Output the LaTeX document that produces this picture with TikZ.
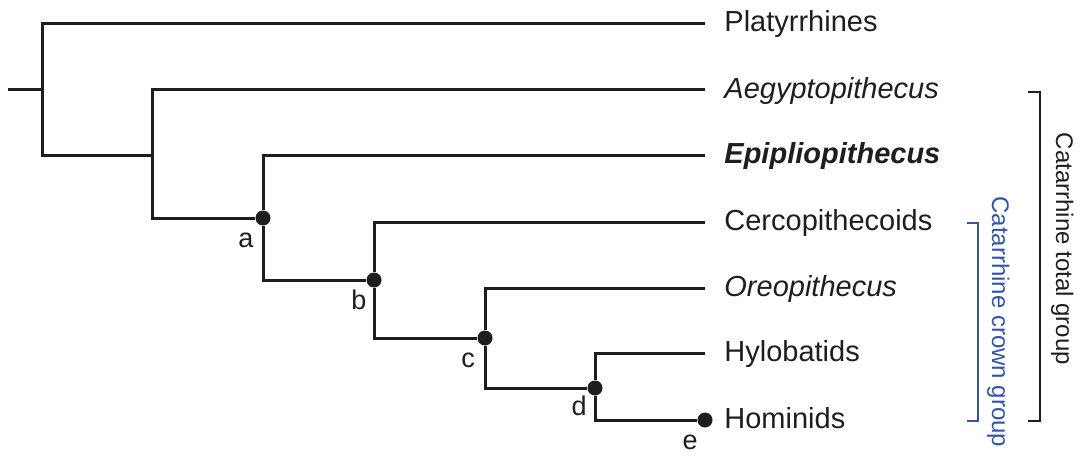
\documentclass[tikz,border=0pt]{standalone}
\usepackage{fontspec}
\setmainfont{Liberation Sans}
\usetikzlibrary{calc}
\definecolor{crownblue}{RGB}{52,84,168}
\definecolor{treeblack}{RGB}{30,30,30}
\begin{document}
\begin{tikzpicture}[x=0.5pt,y=-0.5pt,
  branch/.style={line width=1.5pt, draw=treeblack},
  dot/.style={circle, fill=treeblack, inner sep=0pt, minimum size=7.5pt},
  tip/.style={anchor=base west, inner sep=0pt, font=\fontsize{14.5}{17}\selectfont, text=treeblack},
  nlab/.style={anchor=base, inner sep=0pt, font=\fontsize{13.5}{16}\selectfont, text=treeblack},
  grouplab/.style={anchor=base, inner sep=0pt, rotate=-90, font=\fontsize{12}{14}\selectfont}]
\useasboundingbox (0,0) rectangle (1085,460);

% internal points and tips
\coordinate (r0) at (8,90);
\coordinate (R) at (42,90);
\coordinate (n1) at (152,155);
\coordinate (tP) at (705,24);
\coordinate (tA) at (705,90);
\coordinate (tE) at (705,155);
\coordinate (tC) at (705,222);
\coordinate (tO) at (705,288);
\coordinate (tH) at (705,353);
\node[dot] (a) at (263,218) {};
\node[dot] (b) at (374,280) {};
\node[dot] (c) at (485,338) {};
\node[dot] (d) at (595,388) {};
\node[dot] (e) at (705,420) {};

% branches
\draw[branch] (r0) -- (R);
\draw[branch] (R) |- (tP);
\draw[branch] (R) |- (n1);
\draw[branch] (n1) |- (tA);
\draw[branch] (n1) |- (a);
\draw[branch] (a) |- (tE);
\draw[branch] (a) |- (b);
\draw[branch] (b) |- (tC);
\draw[branch] (b) |- (c);
\draw[branch] (c) |- (tO);
\draw[branch] (c) |- (d);
\draw[branch] (d) |- (tH);
\draw[branch] (d) |- (e);

% node letters
\node[nlab] (la) at ($(a)+(-17,29)$) {a};
\node[nlab] (lb) at ($(b)+(-15,29)$) {b};
\node[nlab] (lc) at ($(c)+(-17,29)$) {c};
\node[nlab] (ld) at ($(d)+(-16,27)$) {d};
\node[nlab] (le) at ($(e)+(-15,29)$) {e};

% tip labels
\node[tip] (lP) at (724,32) {Platyrrhines};
\node[tip] (lA) at (724,98) {\textit{Aegyptopithecus}};
\node[tip] (lE) at (724,163) {\textbf{\textit{Epipliopithecus}}};
\node[tip] (lC) at (724,230) {Cercopithecoids};
\node[tip] (lO) at (724,296) {\textit{Oreopithecus}};
\node[tip] (lH) at (724,361) {Hylobatids};
\node[tip] (lM) at (724,428) {Hominids};

% total group bracket
\coordinate (g1) at (1028,92);
\coordinate (g2) at (1040,92);
\coordinate (g3) at (1040,421);
\coordinate (g4) at (1028,421);
\draw[line width=1pt, treeblack] (g1) -- (g2) -- (g3) -- (g4);
\node[grouplab, text=treeblack] (tot) at (1056,249) {Catarrhine total group};

% crown group bracket
\coordinate (k1) at (967,223);
\coordinate (k2) at (978,223);
\coordinate (k3) at (978,421);
\coordinate (k4) at (967,421);
\draw[line width=0.9pt, crownblue] (k1) -- (k2) -- (k3) -- (k4);
\node[grouplab, text=crownblue] (crown) at (992,322) {Catarrhine crown group};
\end{tikzpicture}
\end{document}
